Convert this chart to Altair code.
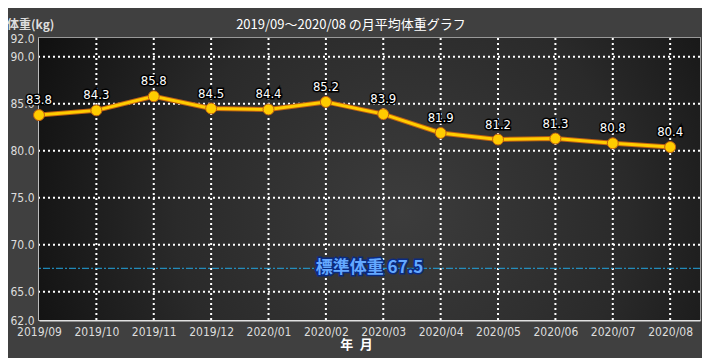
import altair as alt
import pandas as pd

months = ["2019/09", "2019/10", "2019/11", "2019/12", "2020/01", "2020/02",
          "2020/03", "2020/04", "2020/05", "2020/06", "2020/07", "2020/08"]
weights = [83.8, 84.3, 85.8, 84.5, 84.4, 85.2, 83.9, 81.9, 81.2, 81.3, 80.8, 80.4]
y_ticks = [62, 65, 70, 75, 80, 85, 90, 92]
h_grid = [65, 70, 75, 80, 85, 90]
standard_weight = 67.5
title_text = "2019/09～2020/08 の月平均体重グラフ"
y_title = "体重(kg)"
x_title = "年\u2002月"

W, H = 661, 282
JP = "Noto Sans CJK JP"
NUM = "DejaVu Sans Condensed"

df = pd.DataFrame({"i": list(range(len(months))), "month": months, "w": weights,
                   "lbl": [f"{v:.1f}" for v in weights]})
hg = pd.DataFrame({"v": h_grid})
vg = pd.DataFrame({"i": list(range(1, len(months)))})
sd = pd.DataFrame({"v": [standard_weight], "t": [f"標準体重 {standard_weight}"],
                   "i": [(len(months) - 1 + 0.52) / 2]})

label_expr = "[" + ",".join(f"'{m}'" for m in months) + "][datum.value]"

xs = alt.Scale(domain=[0, 11.52], nice=False, zero=False)
ys = alt.Scale(domain=[62, 92], nice=False, zero=False)

x_enc = alt.X("i:Q", scale=xs, axis=alt.Axis(
    values=list(range(len(months))), labelExpr=label_expr, grid=False, ticks=False,
    domainColor="#e0e0e0", domainWidth=2, labelColor="#dddddd", labelFont=NUM,
    labelFontSize=12, labelPadding=6, title=x_title, titleColor="#ffffff",
    titleFont=JP, titleFontSize=13, titleFontWeight="bold", titlePadding=1,
    titleX=317, labelFlush=False))
y_enc = alt.Y("w:Q", scale=ys, axis=alt.Axis(
    values=y_ticks, format=".1f", grid=False, ticks=False, domainColor="#e0e0e0",
    domainWidth=2, labelColor="#dddddd", labelFont=NUM, labelFontSize=12,
    labelPadding=5, title=None, labelFlush=False))

bg = alt.Chart(pd.DataFrame({"a": [0]})).mark_rect(
    fill=alt.Gradient(gradient="radial", x1=0.55, y1=0.55, r1=0, x2=0.55, y2=0.55, r2=0.62,
                      stops=[alt.GradientStop(color="#3c3c3c", offset=0),
                             alt.GradientStop(color="#2a2a2a", offset=0.55),
                             alt.GradientStop(color="#0f0f0f", offset=1)])
).encode(x=alt.value(0), x2=alt.value(W), y=alt.value(0), y2=alt.value(H))

hrule = alt.Chart(hg).mark_rule(color="#ffffff", strokeWidth=2, strokeDash=[2, 3]).encode(
    y=alt.Y("v:Q", scale=ys))
vrule = alt.Chart(vg).mark_rule(color="#ffffff", strokeWidth=2, strokeDash=[2, 3]).encode(
    x=alt.X("i:Q", scale=xs))

std_line = alt.Chart(sd).mark_rule(color="#22a6e0", strokeWidth=1,
                                   strokeDash=[7, 2, 2, 2]).encode(y=alt.Y("v:Q", scale=ys))
std_text_o = alt.Chart(sd).mark_text(font=JP, fontSize=17, fontWeight="bold",
                                     stroke="#0a2a80", strokeWidth=3, fill="#0a2a80",
                                     baseline="middle").encode(
    x=alt.X("i:Q", scale=xs), y=alt.Y("v:Q", scale=ys), text="t:N")
std_text = alt.Chart(sd).mark_text(font=JP, fontSize=17, fontWeight="bold",
                                   fill="#64a8ff", baseline="middle").encode(
    x=alt.X("i:Q", scale=xs), y=alt.Y("v:Q", scale=ys), text="t:N")

line_o = alt.Chart(df).mark_line(color="#c06010", strokeWidth=5).encode(x=x_enc, y=y_enc)
line = alt.Chart(df).mark_line(color="#ffcc00", strokeWidth=3).encode(
    x=alt.X("i:Q", scale=xs), y=alt.Y("w:Q", scale=ys))
pts = alt.Chart(df).mark_point(filled=True, fill="#ffcc00", stroke="#c06010",
                               strokeWidth=1, size=120, opacity=1, shape="circle").encode(
    x=alt.X("i:Q", scale=xs), y=alt.Y("w:Q", scale=ys))
lbl_o = alt.Chart(df).mark_text(font=NUM, fontSize=13, dy=-15, stroke="#000000",
                                strokeWidth=3, fill="#000000").encode(
    x=alt.X("i:Q", scale=xs), y=alt.Y("w:Q", scale=ys), text="lbl:N")
lbl = alt.Chart(df).mark_text(font=NUM, fontSize=13, dy=-15, fill="#ffffff").encode(
    x=alt.X("i:Q", scale=xs), y=alt.Y("w:Q", scale=ys), text="lbl:N")

ttl = alt.Chart(pd.DataFrame({"t": [title_text]})).mark_text(
    font=JP, fontSize=13, fill="#ffffff", align="center", baseline="middle").encode(
    x=alt.value(312), y=alt.value(-13), text="t:N")
ytl = alt.Chart(pd.DataFrame({"t": [y_title]})).mark_text(
    font=JP, fontSize=12, fontWeight="bold", fill="#dddddd", align="left",
    baseline="middle").encode(x=alt.value(-32), y=alt.value(-13), text="t:N")

chart = alt.layer(bg, hrule, vrule, std_line, std_text_o, std_text, line_o, line, pts,
                  lbl_o, lbl, ttl, ytl).properties(
    width=W, height=H, background="#404040",
    padding={"left": 31, "top": 30, "right": 2, "bottom": 38},
    autosize=alt.AutoSizeParams(type="none")
).configure_view(stroke="#999999", strokeWidth=2)

chart.save("out.html", embed_options={"renderer": "svg", "actions": False})
